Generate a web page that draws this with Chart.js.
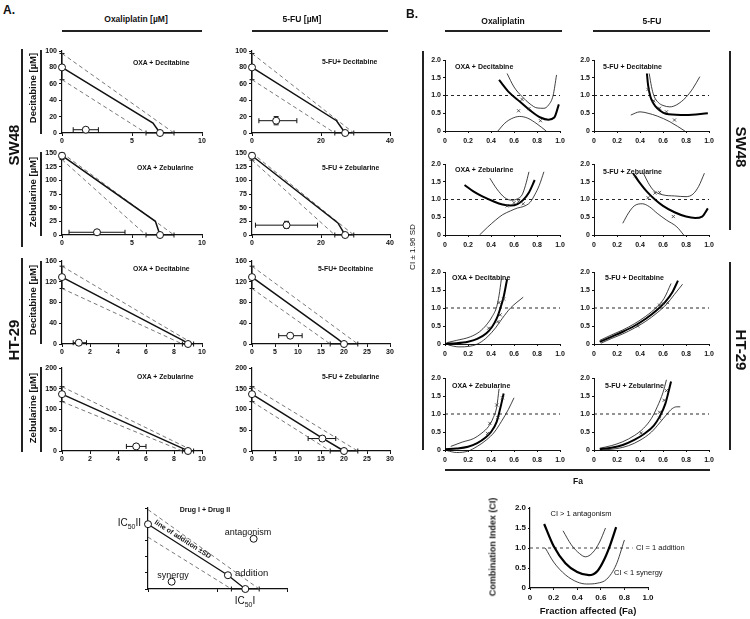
<!DOCTYPE html>
<html>
<head>
<meta charset="utf-8">
<script src="https://cdn.jsdelivr.net/npm/chart.js@4.4.1/dist/chart.umd.min.js"></script>
<style>
body { margin: 0; background: #fff; }
#fig { position: relative; width: 750px; height: 619px; overflow: hidden; font-family: "Liberation Sans", Arial, sans-serif; color: #111; }
.t { position: absolute; white-space: nowrap; line-height: 1; }
.bar { position: absolute; background: #222; }
</style>
</head>
<body>
<div id="fig"></div>
<script>
// ---- A. isobolograms (order: SW48 OXA+Dec, SW48 5-FU+Dec, SW48 OXA+Zeb, SW48 5-FU+Zeb, then HT-29 same) ----
const isoTitles = ['OXA + Decitabine', '5-FU+ Decitabine', 'OXA + Zebularine', '5-FU + Zebularine',
                   'OXA + Decitabine', '5-FU+ Decitabine', 'OXA + Zebularine', '5-FU + Zebularine'];
const isoXMax = [10, 40, 10, 40, 10, 30, 10, 30];
const isoXStep = [5, 20, 5, 20, 2, 5, 2, 5];
const isoYMax = [100, 100, 150, 150, 160, 160, 200, 200];
const isoYStep = [20, 20, 25, 25, 40, 40, 50, 50];
const ic50Y = [80, 80, 145, 145, 129, 129, 137, 137];
const ic50YLow = [65, 65, 138, 137, 107, 107, 119, 119];
const ic50YHigh = [97, 97, 150, 150, 150, 150, 155, 155];
const ic50X = [7, 27, 7, 27, 9, 20, 9, 20];
const ic50XLow = [6, 24, 6, 24, 8.6, 17, 8.6, 17];
const ic50XHigh = [8, 29.5, 8, 29.5, 9.4, 23, 9.4, 23];
const bendX = [6.5, 24.5, 6.67, 24.9, 8.7, 18.6, 8.7, 15.3];
const bendY = [12, 15, 25, 22, 6, 10, 5, 31];
const comboX = [1.7, 7, 2.5, 10, 1.2, 8.3, 5.3, 15.3];
const comboY = [4, 15, 5, 18, 2.5, 16, 11, 30];
const comboXLow = [0.8, 2, 0.5, 1, 0.8, 5.8, 4.6, 12.2];
const comboXHigh = [2.6, 13, 4.5, 19, 1.75, 10.9, 6, 18.2];
const comboYLow = [null, 10, null, 12, null, null, null, null];
const comboYHigh = [null, 20, null, 25, null, null, null, null];

// ---- B. CI vs Fa plots: fit, upper / lower 1.96 SD, observed points ----
const ciTitles = ['OXA + Decitabine', '5-FU + Decitabine', 'OXA + Zebularine', '5-FU + Zebularine',
                  'OXA + Decitabine', '5-FU + Decitabine', 'OXA + Zebularine', '5-FU + Zebularine'];
const fit1 = [[0.47,1.44],[0.56,1.08],[0.65,0.83],[0.74,0.58],[0.83,0.38],[0.9,0.32],[0.95,0.38],[0.99,0.75]];
const up1 = [[0.54,1.62],[0.6,1.24],[0.67,0.97],[0.74,0.76],[0.8,0.65],[0.86,0.64],[0.9,0.73],[0.94,1.0],[0.97,1.58]];
const lo1 = [[0.46,0],[0.52,0.22],[0.58,0.35],[0.65,0.41],[0.72,0.36],[0.8,0.2],[0.88,0]];
const obs1 = [[0.67,0.89],[0.64,0.57],[0.73,0.63],[0.83,0.29]];

const fit2 = [[0.46,1.62],[0.47,1.3],[0.49,0.97],[0.52,0.76],[0.55,0.64],[0.6,0.52],[0.65,0.47],[0.8,0.45],[0.99,0.5]];
const up2 = [[0.48,1.62],[0.5,1.25],[0.52,1.0],[0.56,0.8],[0.6,0.72],[0.66,0.68],[0.72,0.74],[0.8,0.95],[0.86,1.2],[0.92,1.53]];
const lo2 = [[0.32,0.45],[0.4,0.54],[0.47,0.5],[0.55,0.42],[0.66,0.26],[0.79,0]];
const obs2 = [[0.47,1.17],[0.52,0.85],[0.57,0.64],[0.63,0.54],[0.7,0.31]];

const fit3 = [[0.17,1.41],[0.25,1.22],[0.33,1.08],[0.42,0.95],[0.5,0.86],[0.57,0.83],[0.63,0.87],[0.68,0.99],[0.73,1.2],[0.78,1.55]];
const up3 = [[0.39,1.6],[0.45,1.3],[0.52,1.05],[0.58,0.98],[0.63,1.02],[0.67,1.13],[0.7,1.4],[0.73,1.78]];
const lo3 = [[0.3,0],[0.37,0.22],[0.44,0.42],[0.5,0.57],[0.57,0.68],[0.63,0.76],[0.68,0.8],[0.74,0.92],[0.78,1.13],[0.82,1.4],[0.86,1.78]];
const obs3 = [[0.54,0.82],[0.6,0.91],[0.64,0.95],[0.68,0.88]];

const fit4 = [[0.34,1.74],[0.4,1.46],[0.46,1.22],[0.53,1.0],[0.6,0.82],[0.7,0.64],[0.8,0.52],[0.88,0.48],[0.94,0.52],[0.99,0.75]];
const up4 = [[0.43,1.74],[0.47,1.48],[0.52,1.25],[0.6,1.13],[0.7,1.1],[0.8,1.08],[0.86,1.15],[0.91,1.37],[0.96,1.74]];
const lo4 = [[0.25,0.33],[0.3,0.62],[0.35,0.82],[0.42,0.88],[0.48,0.8],[0.55,0.61],[0.63,0.42],[0.72,0.23],[0.78,0]];
const obs4 = [[0.36,1.67],[0.47,1.05],[0.53,1.18],[0.57,1.2],[0.69,0.52]];

const fit5 = [[0,0.01],[0.1,0.02],[0.2,0.06],[0.28,0.14],[0.36,0.3],[0.41,0.48],[0.45,0.71],[0.48,0.98],[0.51,1.31],[0.54,1.8]];
const up5 = [[0.02,0.04],[0.1,0.1],[0.22,0.2],[0.3,0.34],[0.36,0.53],[0.41,0.76],[0.45,1.04],[0.47,1.35],[0.49,1.8]];
const lo5 = [[0.03,-0.03],[0.12,-0.08],[0.22,-0.06],[0.3,0.03],[0.37,0.2],[0.44,0.45],[0.5,0.72],[0.57,1.0],[0.68,1.3]];
const obs5 = [[0.38,0.44],[0.46,0.62],[0.48,0.81],[0.47,1.15],[0.51,1.25]];

const fit6 = [[0.05,0.06],[0.15,0.2],[0.25,0.34],[0.35,0.5],[0.45,0.7],[0.55,0.95],[0.62,1.17],[0.68,1.43],[0.73,1.76]];
const up6 = [[0.05,0.1],[0.15,0.25],[0.25,0.39],[0.35,0.56],[0.45,0.77],[0.55,1.04],[0.61,1.27],[0.67,1.68]];
const lo6 = [[0.06,0.02],[0.15,0.15],[0.25,0.28],[0.35,0.44],[0.45,0.63],[0.55,0.87],[0.63,1.1],[0.7,1.38],[0.77,1.66]];
const obs6 = [[0.38,0.5],[0.57,1.08],[0.6,1.12],[0.64,1.15]];

const fit7 = [[0,0.02],[0.1,0.04],[0.2,0.09],[0.28,0.19],[0.35,0.34],[0.4,0.5],[0.45,0.79],[0.48,1.15],[0.51,1.57]];
const up7 = [[0.05,0.1],[0.15,0.22],[0.25,0.32],[0.32,0.47],[0.38,0.66],[0.42,0.9],[0.45,1.2],[0.47,1.7]];
const lo7 = [[0.02,-0.02],[0.1,-0.07],[0.2,-0.03],[0.28,0.1],[0.36,0.28],[0.43,0.5],[0.49,0.79],[0.55,1.12],[0.6,1.45]];
const obs7 = [[0.37,0.46],[0.39,0.74],[0.46,0.9],[0.45,1.25],[0.5,1.45]];

const fit8 = [[0.05,0.02],[0.15,0.06],[0.25,0.14],[0.35,0.28],[0.45,0.48],[0.52,0.68],[0.57,0.92],[0.62,1.28],[0.67,1.9]];
const up8 = [[0.05,0.05],[0.15,0.12],[0.25,0.23],[0.35,0.4],[0.43,0.6],[0.5,0.88],[0.55,1.2],[0.6,1.6],[0.63,1.95]];
const lo8 = [[0.08,0],[0.2,0.04],[0.3,0.12],[0.4,0.27],[0.5,0.5],[0.57,0.75],[0.63,0.98],[0.68,1.15],[0.72,1.2],[0.75,1.2]];
const obs8 = [[0.41,0.47],[0.57,0.88],[0.57,1.05],[0.61,1.38],[0.63,1.65]];

const ciFits = [fit1, fit2, fit3, fit4, fit5, fit6, fit7, fit8];
const ciUps = [up1, up2, up3, up4, up5, up6, up7, up8];
const ciLows = [lo1, lo2, lo3, lo4, lo5, lo6, lo7, lo8];
const ciObs = [obs1, obs2, obs3, obs4, obs5, obs6, obs7, obs8];

// ---- schematic isobologram ----
const schemeIc50 = [7, 80];
const schemeXSd = [6, 8];
const schemeYSd = [64, 98];
const schemeAddition = [5.75, 17];
const schemeAntagonism = [7.6, 62];
const schemeSynergy = [1.7, 9];

// ---- schematic CI plot ----
const ciDemoFit = [[0.12,1.6],[0.2,1.05],[0.3,0.62],[0.4,0.4],[0.5,0.32],[0.57,0.42],[0.63,0.72],[0.68,1.08],[0.73,1.52]];
const ciDemoUp = [[0.28,1.43],[0.35,1.08],[0.42,0.86],[0.47,0.78],[0.53,0.88],[0.59,1.15],[0.64,1.5]];
const ciDemoLow = [[0.13,1.0],[0.2,0.65],[0.3,0.33],[0.4,0.15],[0.48,0.1],[0.57,0.12],[0.65,0.22],[0.73,0.58],[0.8,1.2]];

const fig = document.getElementById('fig');
const FONT = "'Liberation Sans', Arial, sans-serif";
Chart.defaults.font.family = FONT;
Chart.defaults.color = '#111';

const errorBars = {
  id: 'errorBars',
  defaults: { list: [] },
  beforeDatasetsDraw(chart, args, opts) {
    const ctx = chart.ctx, xs = chart.scales.x, ys = chart.scales.y;
    const seg = (a, b, c, d) => { ctx.beginPath(); ctx.moveTo(a, b); ctx.lineTo(c, d); ctx.stroke(); };
    ctx.save();
    ctx.strokeStyle = '#111';
    ctx.lineWidth = 1;
    (opts.list || []).forEach(e => {
      const px = xs.getPixelForValue(e.x), py = ys.getPixelForValue(e.y);
      if (e.xLo != null) {
        const a = xs.getPixelForValue(e.xLo), b = xs.getPixelForValue(e.xHi);
        seg(a, py, b, py); seg(a, py - 2.5, a, py + 2.5); seg(b, py - 2.5, b, py + 2.5);
      }
      if (e.yLo != null) {
        const a = ys.getPixelForValue(e.yLo), b = ys.getPixelForValue(e.yHi);
        seg(px, a, px, b); seg(px - 2.5, a, px + 2.5, a); seg(px - 2.5, b, px + 2.5, b);
      }
    });
    ctx.restore();
  }
};
Chart.register(errorBars);

function xy(list) { return list.map(p => ({ x: p[0], y: p[1] })); }

function addText(html, x, y, o = {}) {
  const d = document.createElement('div');
  d.className = 't';
  d.innerHTML = html;
  const tx = o.align === 'left' ? '0' : o.align === 'right' ? '-100%' : '-50%';
  d.style.left = x + 'px';
  d.style.top = y + 'px';
  d.style.fontSize = (o.size || 7) + 'px';
  d.style.fontWeight = o.bold === false ? 'normal' : 'bold';
  d.style.transform = `translate(${tx},-50%)` + (o.rot ? ` rotate(${o.rot}deg)` : '');
  fig.appendChild(d);
}

function addBar(x1, y1, x2, y2, w = 2.5) {
  const d = document.createElement('div');
  d.className = 'bar';
  if (y1 === y2) d.style.cssText = `left:${x1}px;top:${y1 - w / 2}px;width:${x2 - x1}px;height:${w}px`;
  else d.style.cssText = `left:${x1 - w / 2}px;top:${y1}px;width:${w}px;height:${y2 - y1}px`;
  fig.appendChild(d);
}

function makePlot(rect, o) {
  const pad = { l: 26, r: 11, t: 8, b: o.padB || 15 };
  const c = document.createElement('canvas');
  const w = rect[2] + pad.l + pad.r, h = rect[3] + pad.t + pad.b;
  c.width = w; c.height = h;
  c.style.cssText = `position:absolute;left:${rect[0] - pad.l}px;top:${rect[1] - pad.t}px;width:${w}px;height:${h}px`;
  fig.appendChild(c);
  o.datasets.forEach(d => { d.clip = false; });
  const axis = (min, max, step, fmt, fit, tickPad) => ({
    type: 'linear', min, max, afterFit: fit,
    ticks: { stepSize: step, autoSkip: false, maxRotation: 0, minRotation: 0, padding: tickPad,
             display: o.showTicks !== false, callback: fmt, font: { size: o.font || 7, weight: 'bold' }, color: '#111' },
    grid: { drawOnChartArea: false, tickLength: o.tickLen || 3, color: '#111', lineWidth: 1 },
    border: { color: '#111', width: o.axisW || 1.2 }
  });
  return new Chart(c, {
    type: 'scatter',
    data: { datasets: o.datasets },
    options: {
      responsive: false, animation: false, devicePixelRatio: 1,
      layout: { padding: { left: 0, right: pad.r, top: pad.t, bottom: 0 } },
      plugins: { legend: { display: false }, tooltip: { enabled: false }, errorBars: { list: o.errors || [] } },
      scales: {
        x: axis(0, o.xMax, o.xStep, o.fmtX, s => { s.height = pad.b; }, o.xPad || 1),
        y: axis(0, o.yMax, o.yStep, o.fmtY, s => { s.width = pad.l; }, o.yPad || 2)
      }
    }
  });
}

const openDot = { pointRadius: 3.5, pointBackgroundColor: '#fff', pointBorderColor: '#111', pointBorderWidth: 1, showLine: false };
// straight segments
const line = (data, width, dash, color) => ({ data, showLine: true, borderColor: color || '#111', borderWidth: width, borderDash: dash || [], pointRadius: 0, tension: 0 });
// smooth fitted curves
const curve = (data, width, color) => ({ data, showLine: true, borderColor: color || '#111', borderWidth: width, pointRadius: 0, cubicInterpolationMode: 'monotone' });
const fmtNum = v => String(v);
const fmtFa = v => (v === 0 ? '0' : v.toFixed(1));

// ---- panel A ----
const isoRects = [[62, 51, 140, 82], [252, 51, 138, 82], [62, 153, 140, 82], [252, 153, 138, 82],
                  [62, 261, 140, 83], [252, 261, 138, 83], [62, 368, 140, 83], [252, 368, 138, 83]];
const isoTitlePos = [[133, 63], [322, 62], [137, 168], [322, 168], [133, 269], [318, 269], [137, 377], [322, 377]];

isoTitles.forEach((title, i) => {
  const errs = [
    { x: 0, y: ic50Y[i], yLo: ic50YLow[i], yHi: ic50YHigh[i] },
    { x: ic50X[i], y: 0, xLo: ic50XLow[i], xHi: ic50XHigh[i] },
    { x: comboX[i], y: comboY[i], xLo: comboXLow[i], xHi: comboXHigh[i] }
  ];
  if (comboYLow[i] != null) errs.push({ x: comboX[i], y: comboY[i], yLo: comboYLow[i], yHi: comboYHigh[i] });
  makePlot(isoRects[i], {
    xMax: isoXMax[i], xStep: isoXStep[i], yMax: isoYMax[i], yStep: isoYStep[i], fmtX: fmtNum, fmtY: fmtNum,
    datasets: [
      Object.assign({ data: [{ x: 0, y: ic50Y[i] }, { x: ic50X[i], y: 0 }, { x: comboX[i], y: comboY[i] }] }, openDot),
      line([{ x: 0, y: ic50Y[i] }, { x: bendX[i], y: bendY[i] }, { x: ic50X[i], y: 0 }], 1.5),
      line([{ x: 0, y: ic50YHigh[i] }, { x: ic50XHigh[i], y: 0 }], 0.8, [4, 3], '#555'),
      line([{ x: 0, y: ic50YLow[i] }, { x: ic50XLow[i], y: 0 }], 0.8, [4, 3], '#555')
    ],
    errors: errs
  });
  addText(title, isoTitlePos[i][0], isoTitlePos[i][1], { size: 6.8, align: 'left' });
});

// ---- panel B ----
const ciRects = [[445, 60, 115, 71], [594, 60, 115, 71], [445, 164, 115, 71], [594, 164, 115, 71],
                 [445, 272, 115, 72], [594, 272, 115, 72], [445, 378, 115, 72], [594, 378, 115, 72]];
const ciTitlePos = [[455, 66], [603, 66], [455, 169], [603, 171], [452, 277], [605, 277], [452, 385], [605, 385]];

ciTitles.forEach((title, i) => {
  makePlot(ciRects[i], {
    xMax: 1, xStep: 0.2, yMax: 2, yStep: 0.5, fmtX: fmtFa, fmtY: fmtFa, tickLen: 2, xPad: 4, axisW: 1,
    datasets: [
      { data: xy(ciObs[i]), pointStyle: 'crossRot', pointRadius: 2.2, pointBorderColor: '#333', pointBorderWidth: 0.8, showLine: false },
      curve(xy(ciFits[i]), 2, '#000'),
      curve(xy(ciUps[i]), 0.8),
      curve(xy(ciLows[i]), 0.8),
      line([{ x: 0, y: 1 }, { x: 1, y: 1 }], 0.9, [3, 3])
    ]
  });
  addText(title, ciTitlePos[i][0], ciTitlePos[i][1], { size: 7, align: 'left' });
});

// ---- schematic isobologram ----
makePlot([148, 508, 139, 81], {
  xMax: 10, xStep: 5, yMax: 100, yStep: 20, fmtX: fmtNum, fmtY: fmtNum, showTicks: false, axisW: 1.2,
  datasets: [
    Object.assign({ data: xy([[0, schemeIc50[1]], schemeAddition, [schemeIc50[0], 0], schemeAntagonism, schemeSynergy]) }, openDot),
    line(xy([[0, schemeIc50[1]], schemeAddition, [schemeIc50[0], 0]]), 1.3),
    line(xy([[0, schemeYSd[1]], [schemeXSd[1], 0]]), 0.8, [4, 3], '#555'),
    line(xy([[0, schemeYSd[0]], [schemeXSd[0], 0]]), 0.8, [4, 3], '#555')
  ],
  errors: [{ x: schemeIc50[0], y: 0, xLo: schemeXSd[0], xHi: schemeXSd[1] }]
});

// ---- schematic CI plot ----
makePlot([530, 508, 118, 80], {
  xMax: 1, xStep: 0.2, yMax: 2, yStep: 0.5, fmtX: fmtFa, fmtY: fmtFa, font: 8, tickLen: 2, xPad: 3, axisW: 1.2,
  datasets: [
    curve(xy(ciDemoFit), 2.2, '#000'),
    curve(xy(ciDemoUp), 0.8),
    curve(xy(ciDemoLow), 0.8),
    line([{ x: 0, y: 1 }, { x: 0.87, y: 1 }], 1, [3, 3], '#444')
  ]
});

// ---- labels and bars ----
addText('A.', 3, 10, { size: 12, align: 'left' });
addText('B.', 406, 14, { size: 12, align: 'left' });
addText('Oxaliplatin [µM]', 136, 19, { size: 8.5 });
addText('5-FU [µM]', 302, 19, { size: 8.5 });
addBar(62, 31, 202, 31);
addBar(252, 31, 388, 31);
addText('Oxaliplatin', 503, 21, { size: 8.5 });
addText('5-FU', 652, 21, { size: 8.5 });
addBar(445, 31, 562, 31);
addBar(593, 31, 710, 31);

addText('Decitabine [µM]', 33, 88, { size: 9.5, rot: -90 });
addText('Zebularine [µM]', 33, 192, { size: 9.5, rot: -90 });
addText('Decitabine [µM]', 33, 300, { size: 9.5, rot: -90 });
addText('Zebularine [µM]', 33, 408, { size: 9.5, rot: -90 });
addBar(41, 50, 41, 134);
addBar(41, 152, 41, 236);
addBar(41, 261, 41, 344);
addBar(41, 367, 41, 452);
addText('SW48', 13, 145, { size: 15, rot: -90 });
addText('HT-29', 13, 340, { size: 15, rot: -90 });
addBar(22, 49, 22, 247);
addBar(22, 258, 22, 452);

addText('CI ± 1.96 SD', 413, 247, { size: 8, bold: false, rot: -90 });
addBar(423, 51, 423, 450);
addText('SW48', 741, 147, { size: 15, rot: 90 });
addText('HT-29', 741, 350, { size: 15, rot: 90 });
addBar(730, 51, 730, 230);
addBar(730, 262, 730, 450);
addBar(445, 470, 710, 470);
addText('Fa', 578, 481, { size: 8.5 });

addText('Drug I + Drug II', 205, 509, { size: 7 });
addText('IC<sub style="font-size:7px">50</sub>II', 141, 524, { size: 10, bold: false, align: 'right' });
addText('IC<sub style="font-size:7px">50</sub>I', 245, 602, { size: 10, bold: false });
addText('antagonism', 248, 532, { size: 9, bold: false });
addText('addition', 235, 573, { size: 9.5, bold: false, align: 'left' });
addText('synergy', 173, 575, { size: 9, bold: false });
addText('line of addition ±SD', 183, 539, { size: 7, rot: 32.5 });

addText('CI &gt; 1 antagonism', 581, 514, { size: 7.5, bold: false });
addText('CI = 1 addition', 636, 548, { size: 7.5, bold: false, align: 'left' });
addText('CI &lt; 1 synergy', 614, 573, { size: 7.5, bold: false, align: 'left' });
addText('Combination Index (CI)', 493, 547, { size: 9, rot: -90 });
addText('Fraction affected (Fa)', 588, 611, { size: 9.5 });
</script>
</body>
</html>
